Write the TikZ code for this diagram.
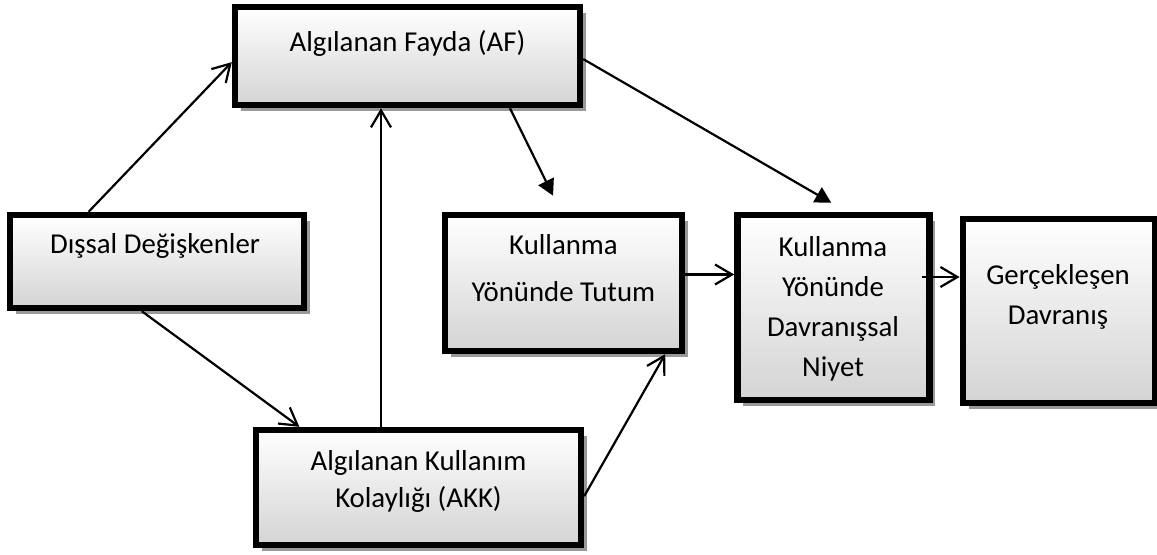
\documentclass[tikz,border=0pt]{standalone}
\usepackage{fontspec}
\setmainfont{Carlito}
\usetikzlibrary{positioning}
\usetikzlibrary{arrows.meta, shadows}

\begin{document}
\begin{tikzpicture}[
            x = 0.5pt, y = -0.5pt, % one unit per pixel, y going down
            open/.style = {-{Straight Barb[length=8.5pt, width=10pt]}}, % open arrow head
            headed/.style = {-{Triangle[length=8pt, width=8.5pt]}, shorten > = 9pt}, % filled head, kept off the box
            line width = 1.1pt,
            font = \fontsize{14.4pt}{20pt}\selectfont
        ]

        \tikzstyle{box}=[
            draw = black,
            line width = 3.2pt,
            top color = white,
            bottom color = black!17,
            drop shadow = {shadow xshift=3pt, shadow yshift=-3pt, fill=black!40, opacity=1},
            inner sep = 0pt
        ]
        \tikzstyle{lbl}=[align=center, inner sep=0pt]

        \useasboundingbox (0,0) rectangle (1157,554);

       \node[box, minimum width=172.5pt, minimum height=49pt] (af) at (407.5,56) {};
       \node[box, minimum width=147pt, minimum height=46.5pt] (dis) at (157,261.5) {};
       \node[box, minimum width=162.5pt, minimum height=57.5pt] (akk) at (418.5,487.5) {};
       \node[box, minimum width=118.5pt, minimum height=68pt] (tut) at (563.5,283) {};

       \node[box, minimum width=96pt, minimum height=92.5pt] (niy) [right=24.5pt of tut.north east, anchor=north west] {};
       \node[box, minimum width=96pt, minimum height=92pt] (ger) [below right=2pt and 13.5pt of niy.north east, anchor=north west] {};

       \node[lbl] (afT) at (407.5,43) {Algılanan Fayda (AF)};
       \node[lbl] (disT) at (155,246) {Dışsal Değişkenler};
       \node[lbl] (akkT) at (418.5,481) {Algılanan Kullanım\\[-1.5pt]Kolaylığı (AKK)};
       \node[lbl] (tutT) at (563.5,268.5) {Kullanma\\[3.5pt]Yönünde Tutum};
       \node[lbl] (niyT) at (833,308.5) {Kullanma\\Yönünde\\Davranışsal\\Niyet};
       \node[lbl] (gerT) at (1058,297) {Gerçekleşen\\Davranış};

        \coordinate (akkUp) at ([xshift=-18.75pt]akk.north);
        \coordinate (niyOut) at ([yshift=15.25pt]niy.east);

	\path	
            (dis.144)    edge[open]    (af.182)
            (dis.253)    edge[open]    (akk.153)
            (akkUp)    edge[open]    (akkUp |- af.south)
            (af.333)    edge[headed]    (tut.92)
            (af.359)    edge[headed]    (niy.82)
            (akk.357)    edge[open]    (tut.325)
            (tut.4)    edge[open]    (tut.4 -| niy.west)
            ([xshift=-5.5pt]niyOut)    edge[open]    (niyOut -| ger.west);

  \end{tikzpicture}
\end{document}
